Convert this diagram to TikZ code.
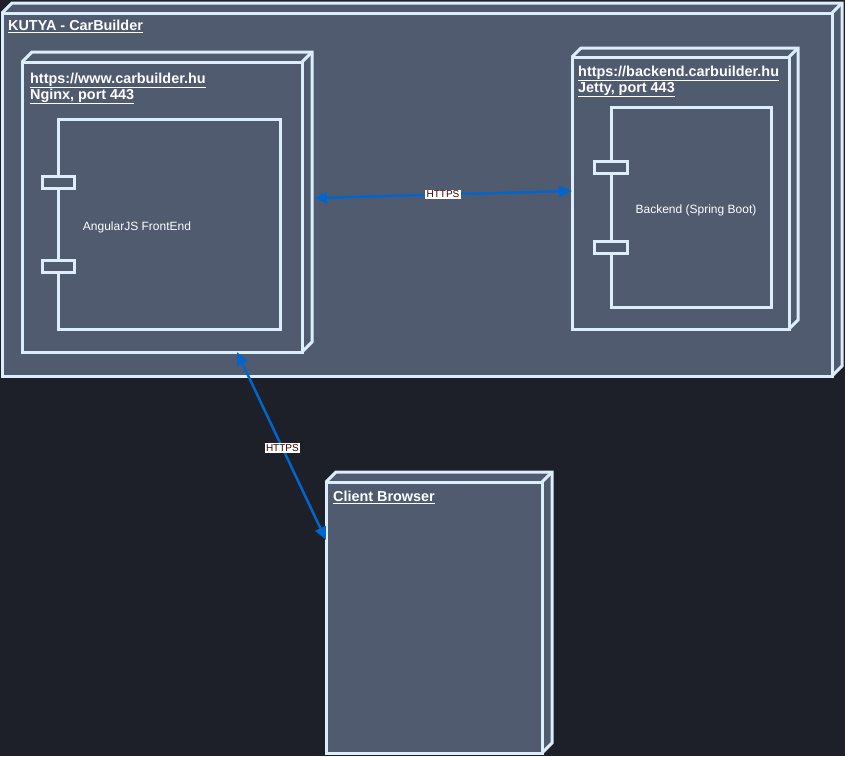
\documentclass[tikz,border=0pt]{standalone}
\usepackage{fontspec}
\setmainfont{Liberation Sans}
\usetikzlibrary{arrows.meta,calc}
\definecolor{bgc}{RGB}{30,32,41}
\definecolor{boxfill}{RGB}{80,91,112}
\definecolor{boxline}{RGB}{220,238,252}
\definecolor{arrowc}{RGB}{0,102,204}
\definecolor{lblc}{RGB}{60,0,0}
\newcommand{\cubebox}[6]{% name x1 y1 x2 y2 depth
  \fill[boxfill] (#2,#3) -- ++(#6,-#6) -- (#4+#6,#3-#6) -- (#4+#6,#5-#6) -- (#4,#5) -- (#2,#5) -- cycle;
  \draw[boxstroke] (#2,#3) -- ++(#6,-#6) -- (#4+#6,#3-#6) -- (#4+#6,#5-#6) -- (#4,#5);
  \draw[boxstroke] (#4,#3) -- ++(#6,-#6);
  \node[boxstroke,draw,inner sep=0pt,outer sep=0pt,anchor=north west,
        minimum width=#4pt-#2pt,minimum height=#5pt-#3pt] (#1) at (#2,#3) {};
}
\newcommand{\compbox}[5]{% name x1 y1 x2 y2
  \node[boxstroke,draw,inner sep=0pt,outer sep=0pt,anchor=north west,
        minimum width=#4pt-#2pt,minimum height=#5pt-#3pt] (#1) at (#2,#3) {};
}
\newcommand{\portbox}[5]{%
  \node[boxstroke,draw,fill=boxfill,inner sep=0pt,outer sep=0pt,anchor=north west,
        minimum width=#4pt-#2pt,minimum height=#5pt-#3pt] (#1) at (#2,#3) {};
}
\tikzset{
  boxstroke/.style={draw=boxline,line width=3pt,line join=miter},
  title/.style={anchor=base west,inner sep=0pt,text=white,font=\fontsize{14.4}{16}\selectfont\bfseries},
  plain/.style={anchor=base,inner sep=0pt,text=white,font=\fontsize{12}{14}\selectfont},
  link/.style={draw=arrowc,line width=2.5pt,{Triangle[length=13pt,width=11pt]}-{Triangle[length=13pt,width=11pt]}},
  lbl/.style={fill=white,text=lblc,inner sep=1.2pt,font=\fontsize{10}{11}\selectfont}
}
\begin{document}
\begin{tikzpicture}[x=1pt,y=-1pt]
\fill[bgc] (0,0) rectangle (845,756);
\useasboundingbox (0,0) rectangle (845,756);
% outer
\cubebox{kutya}{2}{13}{832}{376}{10}
\node[title] (kutyat) at (8,30.5) {\underline{KUTYA - CarBuilder}};
% nginx
\cubebox{nginx}{22}{62}{302}{352}{10}
\node[title] (nginxt1) at (30,83.3) {\underline{https://www.carbuilder.hu}};
\node[title] (nginxt2) at (30,99) {\underline{Nginx, port 443}};
\compbox{front}{58}{119}{280}{329}
\portbox{fp1}{42}{176}{74}{188}
\portbox{fp2}{42}{260}{74}{272}
\node[plain] (frontt) at (137,230) {AngularJS FrontEnd};
% backend
\cubebox{jetty}{572}{57}{789}{329}{9}
\node[title] (jettyt1) at (578,76) {\underline{https://backend.carbuilder.hu}};
\node[title] (jettyt2) at (578,92.3) {\underline{Jetty, port 443}};
\compbox{back}{611}{107}{771}{307}
\portbox{bp1}{594}{161}{627}{173}
\portbox{bp2}{594}{241}{627}{253}
\node[plain] (backt) at (696,213) {Backend (Spring Boot)};
% client
\cubebox{client}{326}{482}{542}{753}{10}
\node[title] (clientt) at (333,501.7) {\underline{Client Browser}};
% connectors
\coordinate (nginxR) at ($(nginx.north east)+(12,136)$);
\coordinate (jettyL) at ($(jetty.north west)+(0,134)$);
\coordinate (nginxB) at ($(nginx.south west)+(215,0)$);
\coordinate (clientL) at ($(client.north west)+(0,58)$);
\draw[link] (nginxR) -- node[lbl] (h1) {HTTPS} (jettyL);
\draw[link] (nginxB) -- node[lbl,pos=0.51] (h2) {HTTPS} (clientL);
\end{tikzpicture}
\end{document}
